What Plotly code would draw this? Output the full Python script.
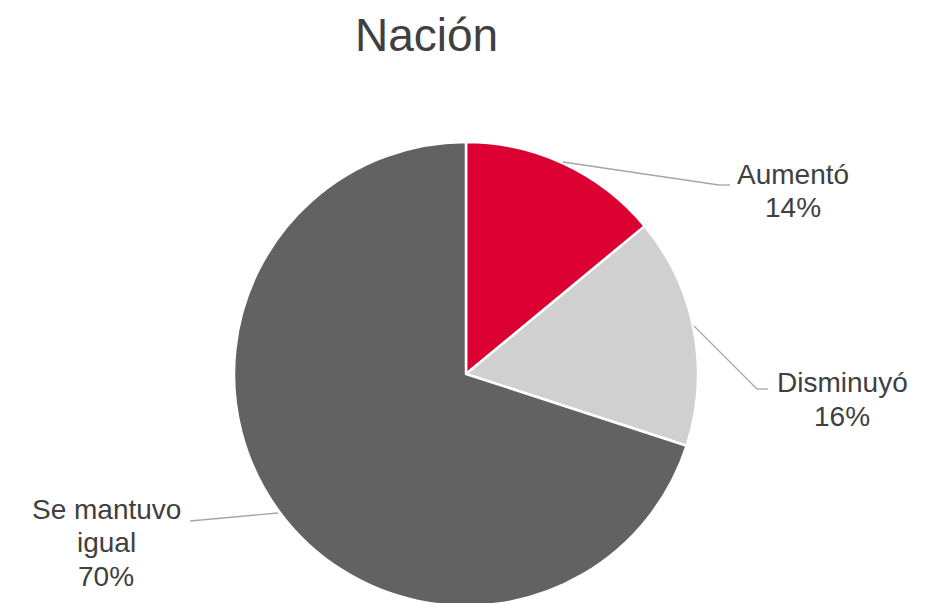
import plotly.graph_objects as go

# ---- data ----
categories = ["Aumentó", "Disminuyó", "Se mantuvo igual"]
label_lines = [["Aumentó"], ["Disminuyó"], ["Se mantuvo", "igual"]]
values = [14, 16, 70]
title_text = "Nación"

# ---- styling ----
colors = ["#DC0032", "#D0D0D0", "#626262"]
W, H = 936, 603
OFF = 8  # page body margin
text_color = "#404040"
leader_color = "#A6A6A6"
FONT = "Liberation Sans, Arial, sans-serif"

def px(x):
    return (x - OFF) / W

def py(y):
    return 1 - (y - OFF) / H

# pie geometry (screen pixels)
cx, cy, R = 466, 374, 232

fig = go.Figure(go.Pie(
    labels=categories,
    values=values,
    sort=False,
    direction="clockwise",
    rotation=0,
    marker=dict(colors=colors, line=dict(color="white", width=2.5)),
    textinfo="none",
    hoverinfo="label+percent",
    domain=dict(x=[px(cx - R), px(cx + R)], y=[py(cy + R), py(cy - R)]),
    showlegend=False,
))

total = sum(values)
pct = [round(v * 100 / total) for v in values]

# label placements (screen pixels): center x, first line center y
label_pos = [(793, 174), (842, 383), (106, 509)]
line_gap = 33.5
leaders = [
    [(563, 162), (719, 185), (730, 185)],
    [(694, 326), (757, 389), (768, 389)],
    [(278, 513), (190, 521)],
]

annotations = []
for lines, p, (lx, ly) in zip(label_lines, pct, label_pos):
    all_lines = lines + [f"{p}%"]
    for i, t in enumerate(all_lines):
        annotations.append(dict(
            x=px(lx), y=py(ly + i * line_gap), xref="paper", yref="paper",
            text=t, showarrow=False,
            xanchor="center", yanchor="middle", align="center",
            font=dict(family=FONT, size=28, color=text_color),
        ))

annotations.append(dict(
    x=px(426), y=1, xref="paper", yref="paper",
    text=title_text, showarrow=False, xanchor="center", yanchor="top",
    borderpad=0,
    font=dict(family=FONT, size=46, color=text_color),
))

shapes = []
for pts in leaders:
    for (x0, y0), (x1, y1) in zip(pts[:-1], pts[1:]):
        shapes.append(dict(
            type="line", xref="paper", yref="paper",
            x0=px(x0), y0=py(y0), x1=px(x1), y1=py(y1),
            line=dict(color=leader_color, width=1.3),
        ))

fig.update_layout(
    width=W, height=H,
    margin=dict(l=0, r=0, t=0, b=0),
    paper_bgcolor="white",
    plot_bgcolor="white",
    annotations=annotations,
    shapes=shapes,
)

fig.write_html("out.html")
